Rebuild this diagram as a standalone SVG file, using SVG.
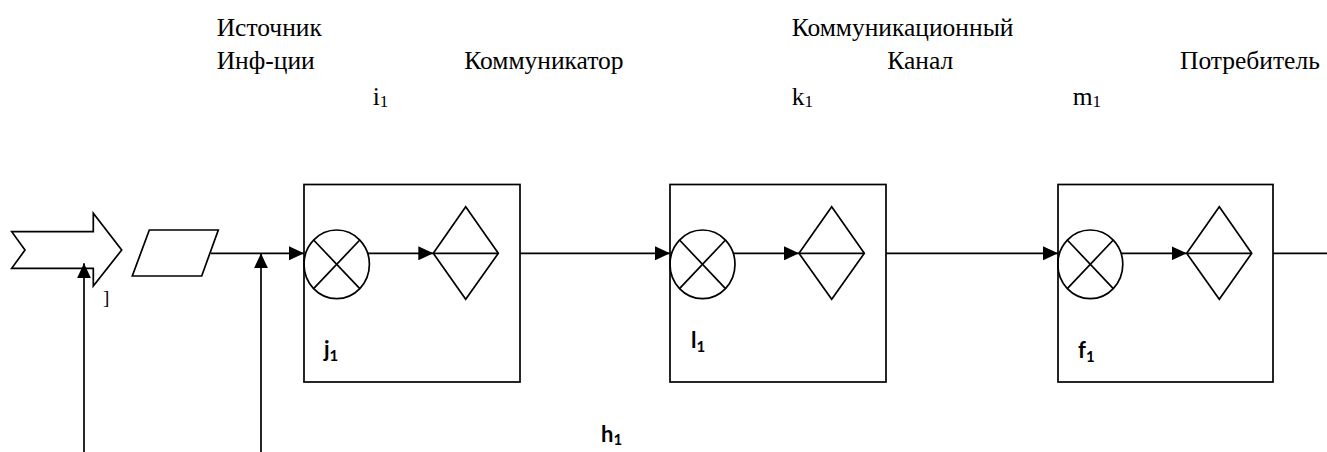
<svg xmlns="http://www.w3.org/2000/svg" width="1327" height="452" viewBox="0 0 1327 452">
<defs>
<marker id="ah" markerUnits="userSpaceOnUse" markerWidth="16" markerHeight="14" refX="15" refY="7" orient="auto">
<path d="M0,0 L15,7 L0,14 z" fill="#000"/>
</marker>
<style>
.s{fill:none;stroke:#000;stroke-width:1.7;stroke-linejoin:miter}
.c{fill:none;stroke:#000;stroke-width:1.7;marker-end:url(#ah)}
.t{font-family:"Liberation Serif","Times New Roman",serif;font-size:25.5px;fill:#000}
.sub{font-size:17px}
.b{font-family:Lato,"Open Sans","Liberation Sans",sans-serif;font-weight:700;font-size:22px;fill:#000}
.bs{font-size:15px}
</style>
</defs>
<rect width="1327" height="452" fill="#fff"/>

<g id="labels">
<text class="t" x="216.7" y="35.7">Источник</text>
<text class="t" x="216.7" y="69.3">Инф-ции</text>
<text class="t" x="464.3" y="69.3">Коммуникатор</text>
<text class="t" x="372.7" y="104.5">i<tspan class="sub" dy="2">1</tspan></text>
<text class="t" x="791.7" y="36">Коммуникационный</text>
<text class="t" x="887.3" y="69.3">Канал</text>
<text class="t" x="791.7" y="104.5">k<tspan class="sub" dy="2">1</tspan></text>
<text class="t" x="1072.7" y="104.5">m<tspan class="sub" dy="2">1</tspan></text>
<text class="t" x="1180" y="69.3">Потребитель</text>
</g>

<g id="source-arrow">
<polygon class="s" points="11.7,231.7 93.3,231.7 93.3,213.3 121.7,250 93.3,286 93.3,268.3 11.7,268.3 25,250"/>
<text x="103" y="304" style="font-family:'Liberation Serif',serif;font-size:19px">]</text>
</g>

<g id="source-block">
<polygon class="s" points="149.3,230 218.3,230 201.7,276 132.3,276"/>
</g>

<g id="communicator">
<rect class="s" x="304" y="184.5" width="216" height="197.5"/>
<ellipse class="s" cx="336.7" cy="264.3" rx="32.7" ry="34.3"/>
<line class="s" x1="313.6" y1="240" x2="359.8" y2="288.6"/>
<line class="s" x1="359.8" y1="240" x2="313.6" y2="288.6"/>
<polygon class="s" points="465.7,206.7 498.3,253.3 465.7,299.3 433.3,253.3"/>
<line class="s" x1="433.3" y1="253.3" x2="498.3" y2="253.3"/>
<text class="b" x="324" y="357">j<tspan class="bs" dy="4">1</tspan></text>
</g>

<g id="channel">
<rect class="s" x="670" y="184.5" width="216" height="197.5"/>
<ellipse class="s" cx="702.5" cy="264.3" rx="32.5" ry="34.3"/>
<line class="s" x1="679.5" y1="240" x2="725.5" y2="288.6"/>
<line class="s" x1="725.5" y1="240" x2="679.5" y2="288.6"/>
<polygon class="s" points="831.7,206.7 864.3,253.3 831.7,299.3 799,253.3"/>
<line class="s" x1="799" y1="253.3" x2="864.3" y2="253.3"/>
<text class="b" x="691" y="348.3">l<tspan class="bs" dy="3.5">1</tspan></text>
</g>

<g id="consumer">
<rect class="s" x="1058" y="184.5" width="215" height="197.5"/>
<ellipse class="s" cx="1090.3" cy="264.3" rx="32.5" ry="34.3"/>
<line class="s" x1="1067.3" y1="240" x2="1113.3" y2="288.6"/>
<line class="s" x1="1113.3" y1="240" x2="1067.3" y2="288.6"/>
<polygon class="s" points="1219.3,206.7 1251.7,253.3 1219.3,299.3 1186.7,253.3"/>
<line class="s" x1="1186.7" y1="253.3" x2="1251.7" y2="253.3"/>
<text class="b" x="1078" y="358.3">f<tspan class="bs" dy="3.5">1</tspan></text>
</g>

<g id="h-label">
<text class="b" x="601" y="441.7">h<tspan class="bs" dy="3.5">1</tspan></text>
</g>

<g id="connectors">
<line class="c" x1="211" y1="253.3" x2="304" y2="253.3"/>
<line class="c" x1="261" y1="452" x2="261" y2="253.3"/>
<line class="c" x1="84" y1="452" x2="84" y2="263.3"/>
<line class="c" x1="368" y1="253.3" x2="433.3" y2="253.3"/>
<line class="c" x1="520" y1="253.3" x2="670" y2="253.3"/>
<line class="c" x1="734" y1="253.3" x2="799" y2="253.3"/>
<line class="c" x1="886" y1="253.3" x2="1058" y2="253.3"/>
<line class="c" x1="1121.5" y1="253.3" x2="1186.7" y2="253.3"/>
<line class="s" x1="1273" y1="253.3" x2="1327" y2="253.3"/>
</g>
</svg>
